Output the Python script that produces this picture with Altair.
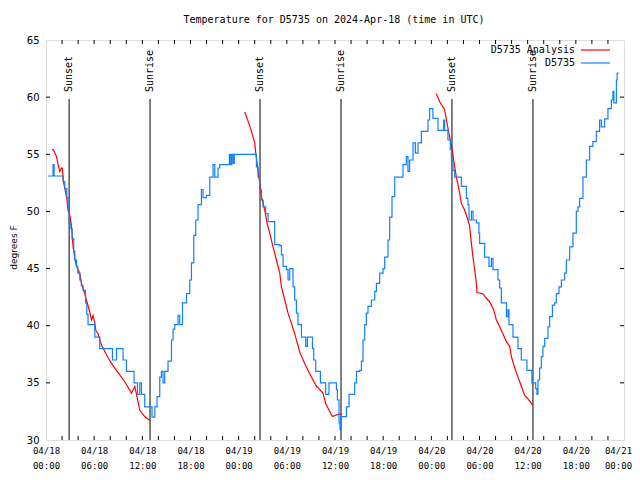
import altair as alt
import pandas as pd

# ---------------- data ----------------
title_text = "Temperature for D5735 on 2024-Apr-18 (time in UTC)"
start = pd.Timestamp("2024-04-18 00:00")

# observed station series (hours since 04/18 00:00 UTC, degrees F)
obs_hours = [0.26, 0.88, 1.01, 2.05, 2.15, 2.34, 2.59, 2.75, 2.88, 3.09, 3.25, 3.46, 3.59, 3.80,
             3.96, 4.21, 4.40, 4.62, 4.92, 5.08, 5.24, 5.87, 6.08, 6.70, 7.95, 8.28, 8.78, 9.40,
             9.60, 10.02, 10.97, 11.39, 11.68, 11.89, 12.30, 13.21, 13.55, 13.83, 14.17, 14.38,
             14.58, 14.79, 15.20, 15.63, 15.83, 16.04, 16.45, 16.66, 17.00, 17.50, 17.91, 18.12,
             18.41, 18.65, 18.94, 19.36, 19.56, 19.99, 20.40, 20.81, 21.02, 21.43, 21.64, 22.85,
             23.01, 23.14, 23.30, 23.45, 26.00, 26.21, 26.41, 26.62, 26.84, 27.04, 27.37, 27.66,
             28.49, 29.12, 29.33, 29.53, 29.95, 30.15, 30.36, 30.77, 30.98, 31.19, 31.39, 31.82,
             32.35, 32.56, 33.19, 33.35, 33.60, 34.18, 34.84, 35.25, 36.18, 36.30, 36.50, 36.62,
             36.71, 37.42, 37.75, 38.45, 38.67, 39.08, 39.29, 39.49, 39.70, 39.91, 40.11, 40.53,
             40.95, 41.16, 41.57, 41.98, 42.19, 42.60, 42.81, 43.10, 43.44, 44.47, 44.89, 45.09,
             45.30, 45.72, 46.01, 46.34, 46.76, 47.58, 47.79, 48.20, 48.83, 49.54, 49.66, 50.07,
             50.37, 50.50, 50.70, 50.91, 51.74, 52.36, 52.56, 52.69, 52.99, 53.19, 53.61, 53.93,
             54.02, 54.64, 55.18, 55.48, 55.68, 56.30, 56.51, 56.72, 57.35, 57.55, 57.67, 58.17,
             58.79, 59.21, 59.91, 60.53, 61.00, 61.16, 61.28, 61.49, 61.70, 61.90, 62.12, 62.53,
             62.74, 63.08, 63.36, 63.57, 63.90, 64.20, 64.61, 64.82, 65.23, 65.64, 66.06, 66.26,
             66.47, 66.89, 67.31, 67.72, 68.13, 68.55, 68.96, 69.18, 69.59, 70.00, 70.42, 70.62,
             70.74, 71.05, 71.15, 71.33]
obs_temps = [53.1, 54.1, 53.1, 53.1, 52.6, 52.0, 51.2, 50.4, 49.1, 48.5, 47.6, 46.5, 45.75, 45.2,
             44.6, 44.0, 43.5, 43.1, 42.0, 41.0, 40.1, 40.1, 39.0, 38.0, 38.0, 37.0, 38.0, 38.0,
             37.0, 36.0, 35.0, 34.0, 35.0, 34.0, 32.9, 32.0, 32.9, 33.8, 35.5, 36.0,
             35.0, 36.0, 36.9, 38.75, 39.7, 40.1, 40.9, 40.1, 42.0, 42.8, 44.0, 45.5,
             47.9, 49.25, 50.6, 51.9, 51.2, 51.4, 53.0, 54.1, 53.0, 53.8, 54.1, 55.0,
             54.1, 55.0, 54.2, 55.0, 55.0, 53.9, 53.0, 51.9, 51.0, 50.4, 49.8, 49.1,
             47.1, 47.0, 46.2, 45.2, 44.9, 44.0, 45.0, 43.4, 42.25, 41.1, 40.1, 39.0,
             38.2, 39.0, 38.0, 37.0, 36.0, 35.0, 34.0, 35.0, 34.4, 33.5, 31.5, 30.9,
             32.05, 32.9, 34.0, 35.0, 36.0, 36.1, 36.9, 38.75, 40.1, 41.1, 41.7, 42.25,
             43.0, 43.7, 44.6, 45.0, 46.0, 47.5, 49.5, 51.3, 53.0, 54.1, 54.8, 53.5,
             54.5, 56.0, 55.1, 56.0, 57.0, 58.0, 59.0, 58.15, 57.1, 58.0, 57.1, 56.25,
             55.4, 54.5, 53.6, 53.0, 52.2, 51.15, 50.6, 49.25, 50.0, 49.25, 49.0, 48.1,
             47.2, 46.0, 45.2, 45.9, 44.9, 44.0, 43.3, 42.0, 40.8, 41.4, 40.1, 39.0,
             38.0, 37.0, 36.1, 35.0, 34.5, 34.0, 35.25, 36.3, 37.3, 38.2, 38.9, 39.9,
             40.8, 41.8, 42.0, 42.8, 43.4, 44.0, 44.6, 45.75, 46.9, 48.1, 50.0, 50.4,
             51.15, 53.0, 54.5, 55.7, 56.1, 57.0, 58.0, 57.4, 58.1, 59.0, 59.75, 60.5,
             59.5, 61.5, 62.1, 62.1]

# analysis series, three overnight segments
ana1_hours = [0.76, 0.91, 1.31, 1.51, 1.72, 1.93, 2.05, 2.13, 2.55, 2.75, 2.96, 3.18, 3.37, 3.59,
              3.80, 4.21, 4.42, 4.83, 5.04, 5.45, 5.67, 5.87, 6.08, 6.20, 6.49, 6.91, 7.73, 8.16,
              8.78, 9.81, 10.65, 11.06, 11.27, 11.68, 12.30, 12.93]
ana1_temps = [55.4, 55.4, 54.8, 54.1, 53.5, 53.8, 53.8, 52.75, 51.3, 50.1, 49.7, 48.7, 46.9, 45.9,
              45.2, 44.6, 43.7, 42.8, 42.25, 41.2, 40.5, 40.9, 40.2, 39.6, 39.3, 38.3, 37.2, 36.7,
              36.1, 35.1, 34.1, 34.7, 34.0, 32.6, 32.05, 31.7]
ana2_hours = [24.76, 25.17, 25.59, 26.00, 26.13, 26.41, 26.62, 26.84, 27.25, 27.53, 27.87, 28.28,
              28.70, 29.12, 29.33, 29.74, 30.15, 30.57, 30.98, 31.61, 32.23, 32.85, 33.69, 34.51,
              34.84, 35.34, 35.68, 36.18, 36.80]
ana2_temps = [58.7, 57.9, 57.0, 56.0, 55.1, 53.6, 52.5, 51.3, 50.1, 49.0, 48.1, 46.9,
              45.75, 44.6, 43.4, 42.25, 41.1, 40.2, 39.3, 37.7, 36.7, 35.8, 34.7, 34.1,
              33.2, 32.5, 32.05, 32.2, 32.3]
ana3_hours = [48.63, 49.04, 49.66, 49.88, 50.20, 50.50, 50.70, 50.91, 51.12, 51.45, 51.74, 52.16,
              52.56, 52.77, 52.99, 53.19, 53.40, 53.61, 53.68, 54.43, 54.85, 55.26, 55.76, 56.10,
              56.51, 56.92, 57.35, 57.76, 57.97, 58.39, 58.80, 59.21, 59.63, 60.04, 60.46, 60.66]
ana3_temps = [60.3, 59.6, 58.9, 58.0, 56.8, 55.8, 54.9, 53.9, 53.0, 51.9, 50.7, 50.1,
              49.25, 48.7, 47.2, 46.0, 44.9, 43.7, 42.9, 42.8, 42.4, 42.1, 41.4, 40.5,
              39.9, 39.3, 38.6, 38.2, 37.3, 36.3, 35.5, 34.7, 33.9, 33.6, 33.2, 33.0]

sun_hours = [2.88, 12.96, 26.66, 36.75, 50.57, 60.66]
sun_labels = ["Sunset", "Sunrise", "Sunset", "Sunrise", "Sunset", "Sunrise"]

series_names = ["D5735 Analysis", "D5735"]
series_colors = ["#ff0000", "#1080ff"]

y_tick_values = [30, 35, 40, 45, 50, 55, 60, 65]
x_label_hours = list(range(0, 73, 6))
x_tick_hours = list(range(2, 72, 2))


def to_time(hours):
    t = start + pd.to_timedelta(pd.Series(hours, dtype=float), unit="h")
    return t.dt.strftime("%Y-%m-%dT%H:%M:%SZ")


obs_df = pd.DataFrame({"time": to_time(obs_hours), "temp": obs_temps})
ana_df = pd.concat([
    pd.DataFrame({"time": to_time(h), "temp": v, "seg": i})
    for i, (h, v) in enumerate([(ana1_hours, ana1_temps), (ana2_hours, ana2_temps), (ana3_hours, ana3_temps)])
], ignore_index=True)
sun_df = pd.DataFrame({"time": to_time(sun_hours), "label": sun_labels})
xtick_df = pd.DataFrame({"time": to_time(x_tick_hours)})
ytick_df = pd.DataFrame({"temp": y_tick_values[1:-1]})

W, H = 578, 400
MONO = "DejaVu Sans Mono"
SANS = "DejaVu Sans"
END_MS = 1713657600000  # 2024-04-21 00:00 UTC, the last label

x_values = [alt.DateTime(year=2024, month=4, date=18 + h // 24, hours=h % 24, utc=True) for h in x_label_hours]
x_enc = alt.X(
    "time:T",
    scale=alt.Scale(type="utc", domain=[alt.DateTime(year=2024, month=4, date=18, hours=0, utc=True),
                                         alt.DateTime(year=2024, month=4, date=21, hours=0, utc=True)]),
    axis=alt.Axis(values=x_values, title=None, ticks=False, tickSize=0, domain=False, grid=False,
                  labelExpr="[utcFormat(datum.value, '%m/%d'), utcFormat(datum.value, '%H:%M')]",
                  labelFont=MONO, labelFontSize=9, labelColor="black", labelPadding=6,
                  labelLineHeight=15, labelBaseline="top", labelFlush=False, labelOverlap=False,
                  labelOffset={"condition": {"test": f"datum.value >= {END_MS - 60000}", "value": -6},
                               "value": 0}),
)
y_enc = alt.Y(
    "temp:Q",
    scale=alt.Scale(domain=[30, 65], nice=False, zero=False),
    axis=alt.Axis(values=y_tick_values, title="degrees F", ticks=False, tickSize=0, domain=False,
                  grid=False, labelFont=SANS, labelFontSize=10, labelColor="black", labelPadding=7,
                  labelFlush=False, titleFont=SANS, titleFontSize=9, titleFontWeight="normal",
                  titleColor="black", titleX=-33, titleY=207, titleAngle=270, titleAlign="center",
                  titleBaseline="middle"),
)

sun_rules = alt.Chart(sun_df).mark_rule(color="black", strokeWidth=1).encode(
    x=x_enc, y=alt.value(59), y2=alt.value(H))
sun_text = alt.Chart(sun_df).mark_text(angle=270, align="left", baseline="middle", font=MONO,
                                       fontSize=10, color="black").encode(
    x=x_enc, y=alt.value(52), text="label:N")

ana_line = alt.Chart(ana_df).mark_line(color=series_colors[0], strokeWidth=1.2).encode(
    x=x_enc, y=y_enc, detail="seg:N")
obs_line = alt.Chart(obs_df).mark_line(color=series_colors[1], strokeWidth=1.2,
                                       interpolate="step-after").encode(x=x_enc, y=y_enc)

xt_bottom = alt.Chart(xtick_df).mark_rule(color="black").encode(x=x_enc, y=alt.value(H), y2=alt.value(H - 4))
xt_top = alt.Chart(xtick_df).mark_rule(color="black").encode(x=x_enc, y=alt.value(0), y2=alt.value(4))
yt_left = alt.Chart(ytick_df).mark_rule(color="black").encode(y=y_enc, x=alt.value(0), x2=alt.value(4))
yt_right = alt.Chart(ytick_df).mark_rule(color="black").encode(y=y_enc, x=alt.value(W - 4), x2=alt.value(W))

title = alt.Chart(pd.DataFrame({"t": [title_text]})).mark_text(
    font=MONO, fontSize=10, color="black", align="center", baseline="middle").encode(
    x=alt.value(288), y=alt.value(-20), text="t:N")

legend_layers = []
for i, (name, col) in enumerate(zip(series_names, series_colors)):
    ly = 10 + 13 * i
    ldf = pd.DataFrame({"name": [name]})
    legend_layers.append(alt.Chart(ldf).mark_text(font=MONO, fontSize=10, color="black", align="right",
                                                  baseline="middle").encode(
        x=alt.value(529), y=alt.value(ly), text="name:N"))
    legend_layers.append(alt.Chart(ldf).mark_rule(color=col, strokeWidth=1.2).encode(
        x=alt.value(535), x2=alt.value(564), y=alt.value(ly)))

chart = alt.layer(
    sun_rules, sun_text, ana_line, obs_line, xt_bottom, xt_top, yt_left, yt_right, title, *legend_layers
).properties(
    width=W, height=H,
    autosize=alt.AutoSizeParams(type="none"),
    padding={"left": 38, "top": 32, "right": 8, "bottom": 30},
).configure_view(stroke="black", strokeWidth=1).configure(background="white")

chart.save("out.html", embed_options={"renderer": "svg", "actions": False})
